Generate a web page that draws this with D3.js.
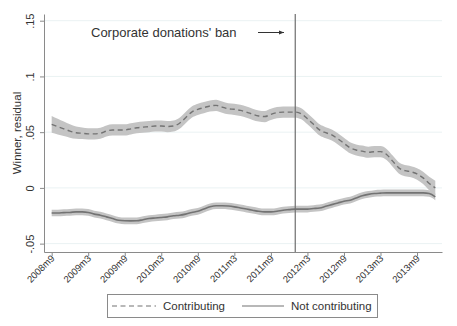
<!DOCTYPE html>
<html><head><meta charset="utf-8">
<script src="https://cdn.jsdelivr.net/npm/d3@7"></script>
<style>body{margin:0;background:#fff}svg{display:block}text{font-family:"Liberation Sans",Arial,sans-serif}</style>
</head><body>
<script>
// month index 0 = 2008m9
const months = d3.range(0, 64);
const contributing = [.057,.055,.053,.051,.0495,.049,.0485,.0485,.049,.051,.052,.052,.052,.053,.054,.0545,.055,.0555,.0555,.055,.0555,.058,.063,.068,.0705,.072,.0735,.074,.0725,.071,.0705,.0695,.068,.066,.0645,.064,.066,.0675,.068,.068,.068,.0665,.062,.057,.052,.0495,.0475,.044,.040,.036,.034,.033,.032,.0325,.0325,.030,.024,.018,.0155,.0145,.0125,.009,.004,.000];
const contribCI = [.0075,.007,.0065,.006,.0055,.0052,.005,.005,.005,.005,.005,.005,.005,.005,.005,.005,.005,.005,.005,.005,.005,.005,.005,.005,.005,.005,.005,.005,.005,.005,.005,.005,.005,.005,.005,.005,.005,.005,.005,.005,.005,.005,.005,.005,.005,.005,.005,.005,.005,.005,.005,.005,.005,.005,.005,.005,.005,.005,.005,.005,.0052,.0055,.006,.0065];
const notContributing = [-.0225,-.0225,-.0222,-.022,-.0215,-.0215,-.022,-.0235,-.0245,-.026,-.0275,-.029,-.0295,-.0296,-.0295,-.0285,-.0275,-.027,-.0265,-.026,-.025,-.0245,-.0235,-.022,-.021,-.019,-.017,-.016,-.016,-.0163,-.017,-.018,-.019,-.020,-.021,-.0215,-.0215,-.021,-.020,-.0195,-.019,-.019,-.019,-.0185,-.018,-.0165,-.015,-.0135,-.012,-.011,-.009,-.007,-.0058,-.005,-.0047,-.0045,-.0045,-.0045,-.0045,-.0045,-.0045,-.0045,-.005,-.008];
const notContribCI = [.003,.003,.003,.003,.003,.003,.003,.003,.003,.003,.003,.003,.003,.003,.003,.003,.003,.003,.003,.003,.003,.003,.003,.003,.003,.003,.003,.003,.003,.003,.003,.003,.003,.003,.003,.003,.003,.003,.003,.003,.003,.003,.003,.003,.003,.003,.003,.003,.003,.003,.003,.003,.003,.003,.003,.003,.003,.003,.003,.003,.003,.003,.003,.003];
const xTickMonths = [0,6,12,18,24,30,36,42,48,54,60];
const xTickLabels = ["2008m9","2009m3","2009m9","2010m3","2010m9","2011m3","2011m9","2012m3","2012m9","2013m3","2013m9"];
const yTicks = [-.05, 0, .05, .1, .15];
const yTickLabels = ["-.05","0",".05",".1",".15"];
const banMonth = 40;
const annotation = "Corporate donations' ban";
const yTitle = "Winner, residual";
const legendLabels = ["Contributing","Not contributing"];

const W = 457, H = 326;
const svg = d3.select("body").append("svg").attr("width", W).attr("height", H);
const x = d3.scaleLinear().domain([-1.26, 64.1]).range([44, 442]);
const y = d3.scaleLinear().domain([-0.0575, 0.156]).range([252, 14]);

// grid
svg.append("g").selectAll("line").data(yTicks).join("line")
  .attr("x1", 44).attr("x2", 442).attr("y1", d => y(d)).attr("y2", d => y(d))
  .attr("stroke", "#eaf2f3").attr("stroke-width", 1);

const band = (vals, ci) => d3.area().x((d, i) => x(months[i])).y0((d, i) => y(vals[i] - ci[i])).y1((d, i) => y(vals[i] + ci[i])).curve(d3.curveMonotoneX);
const line = vals => d3.line().x((d, i) => x(months[i])).y((d, i) => y(vals[i])).curve(d3.curveMonotoneX);

svg.append("path").datum(contributing).attr("d", band(contributing, contribCI)).attr("fill", "#c4c4c4");
svg.append("path").datum(notContributing).attr("d", band(notContributing, notContribCI)).attr("fill", "#c4c4c4");
svg.append("path").datum(contributing).attr("d", line(contributing)).attr("fill", "none").attr("stroke", "#737373").attr("stroke-width", 1.4).attr("stroke-dasharray", "5,3.5");
svg.append("path").datum(notContributing).attr("d", line(notContributing)).attr("fill", "none").attr("stroke", "#737373").attr("stroke-width", 1.6);

// vertical line
svg.append("line").attr("x1", x(banMonth)).attr("x2", x(banMonth)).attr("y1", 14).attr("y2", 252)
  .attr("stroke", "#6e6e6e").attr("stroke-width", 1.2);

// axes
const yAxis = svg.append("g").attr("transform", "translate(44,0)")
  .call(d3.axisLeft(y).tickValues(yTicks).tickFormat((d, i) => yTickLabels[i]).tickSize(4).tickSizeOuter(0));
yAxis.select(".domain").attr("stroke", "#8a8a8a");
yAxis.selectAll(".tick line").attr("stroke", "#8a8a8a");
yAxis.selectAll(".tick text").attr("transform", "rotate(-90)").attr("text-anchor", "middle")
  .attr("x", 0).attr("y", 0).attr("dy", 0).attr("dx", 0)
  .attr("font-size", 11).attr("fill", "#333")
  .each(function() { d3.select(this).attr("transform", "translate(-10,0) rotate(-90)"); });

const xAxis = svg.append("g").attr("transform", "translate(0,252)")
  .call(d3.axisBottom(x).tickValues(xTickMonths).tickFormat((d, i) => xTickLabels[i]).tickSize(4).tickSizeOuter(0));
xAxis.select(".domain").attr("stroke", "#8a8a8a");
xAxis.selectAll(".tick line").attr("stroke", "#8a8a8a");
xAxis.selectAll(".tick text").attr("font-size", 9.5).attr("fill", "#333")
  .attr("text-anchor", "end").attr("y", 0).attr("dy", 0)
  .attr("transform", "translate(3,7) rotate(-45)");

// y title
svg.append("text").attr("transform", `translate(21,${(14 + 252) / 2}) rotate(-90)`)
  .attr("text-anchor", "middle").attr("font-size", 11.5).attr("fill", "#333").text(yTitle);

// annotation
svg.append("text").attr("x", 91).attr("y", 37).attr("font-size", 13).attr("fill", "#333").text(annotation);
svg.append("defs").append("marker").attr("id", "arr").attr("viewBox", "0 0 10 10").attr("refX", 10).attr("refY", 5)
  .attr("markerWidth", 5).attr("markerHeight", 5).attr("orient", "auto")
  .append("path").attr("d", "M0,1 L10,5 L0,9 Z").attr("fill", "#333");
svg.append("line").attr("x1", 258).attr("x2", 284).attr("y1", 32.5).attr("y2", 32.5)
  .attr("stroke", "#333").attr("stroke-width", 1).attr("marker-end", "url(#arr)");

// legend
const lg = svg.append("g");
lg.append("rect").attr("x", 107.5).attr("y", 294.5).attr("width", 270).attr("height", 23)
  .attr("fill", "#fff").attr("stroke", "#8a8a8a");
lg.append("line").attr("x1", 112).attr("x2", 156).attr("y1", 306).attr("y2", 306)
  .attr("stroke", "#737373").attr("stroke-width", 1.2).attr("stroke-dasharray", "5,3.5");
lg.append("text").attr("x", 163).attr("y", 310).attr("font-size", 11.5).attr("fill", "#333").text(legendLabels[0]);
lg.append("line").attr("x1", 242).attr("x2", 284).attr("y1", 306).attr("y2", 306)
  .attr("stroke", "#737373").attr("stroke-width", 1.2);
lg.append("text").attr("x", 291).attr("y", 310).attr("font-size", 11.5).attr("fill", "#333").text(legendLabels[1]);
</script>
</body></html>
